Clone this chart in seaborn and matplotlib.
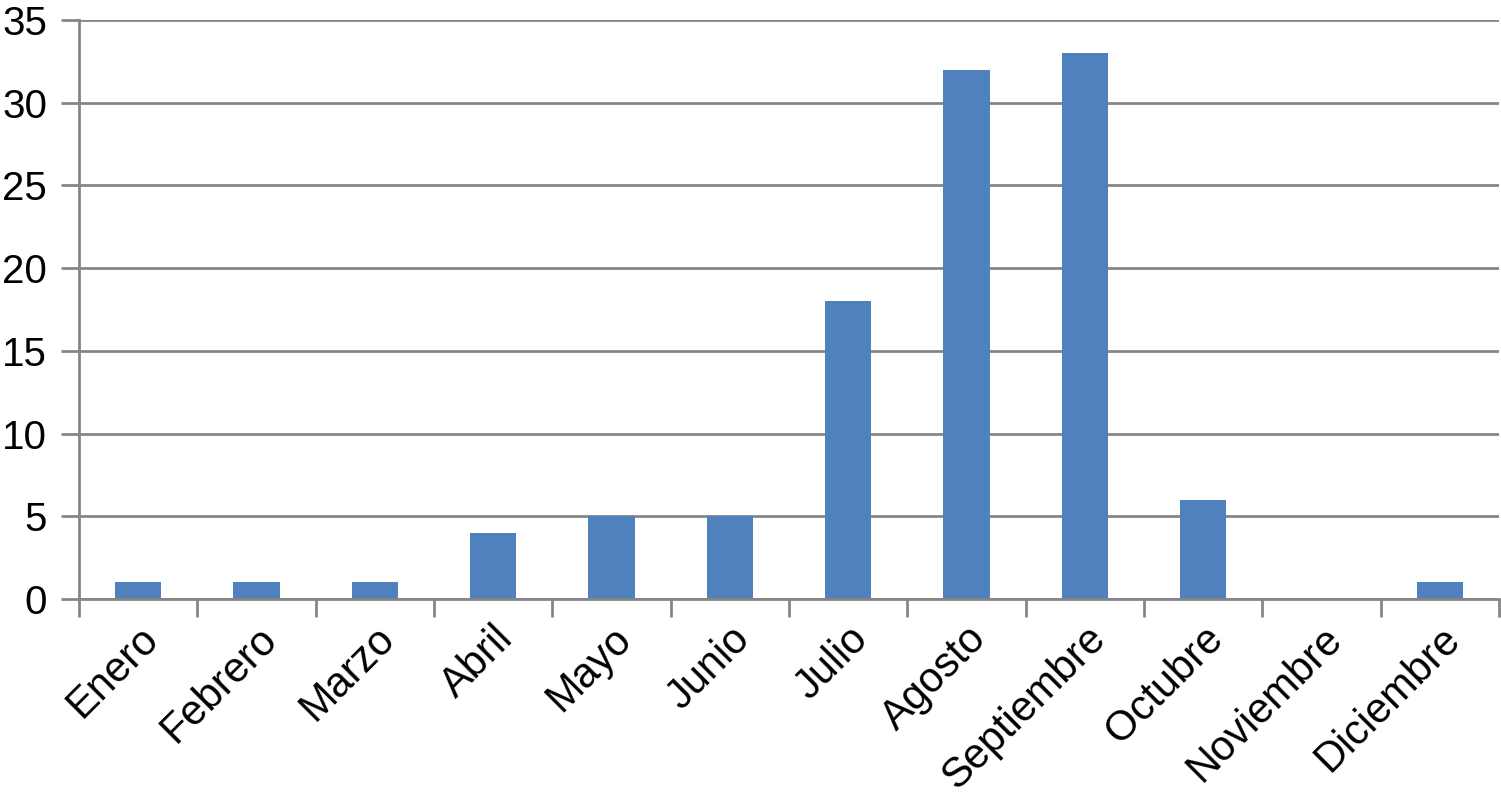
import matplotlib
matplotlib.use("Agg")
import matplotlib.pyplot as plt
import seaborn as sns
import pandas as pd
import numpy as np
from matplotlib.ticker import FixedLocator

months = ["Enero", "Febrero", "Marzo", "Abril", "Mayo", "Junio", "Julio",
          "Agosto", "Septiembre", "Octubre", "Noviembre", "Diciembre"]
values = [1, 1, 1, 4, 5, 5, 18, 32, 33, 6, 0, 1]
yticks = [0, 5, 10, 15, 20, 25, 30, 35]

sns.set_theme(style="white")
plt.rcParams['font.family'] = ['Liberation Sans', 'DejaVu Sans']

df = pd.DataFrame({"mes": months, "casos": values})

fig = plt.figure(figsize=(15.01, 8.0), dpi=100)
ax = fig.add_axes([79/1501, 1 - 599/800, (1499 - 79)/1501, (599 - 20)/800])

grid_c = "#868686"
sns.barplot(data=df, x="mes", y="casos", color="#4F81BD", width=0.39,
            saturation=1, linewidth=0, edgecolor="none", ax=ax, zorder=3)

ax.set_ylim(0, 35)
ax.set_xlim(-0.5, len(months) - 0.5)
ax.set_yticks(yticks)
ax.yaxis.grid(True, color=grid_c, linewidth=2, zorder=0)
ax.set_axisbelow(True)
ax.set_xlabel("")
ax.set_ylabel("")

for s in ["top", "right"]:
    ax.spines[s].set_visible(False)
for s in ["left", "bottom"]:
    ax.spines[s].set_color(grid_c)
    ax.spines[s].set_linewidth(2)
    ax.spines[s].set_zorder(4)

ax.tick_params(axis="y", length=13, width=2, color=grid_c, labelsize=29,
               pad=10, left=True)
ax.tick_params(axis="x", which="major", length=0, labelsize=30, pad=14)
ax.xaxis.set_minor_locator(FixedLocator(np.arange(-0.5, len(months), 1.0)))
ax.tick_params(axis="x", which="minor", length=13, width=2, color=grid_c,
               bottom=True)
ax.set_xticks(range(len(months)))
ax.set_xticklabels(months, rotation=45, ha="right", rotation_mode="anchor")
for lab in ax.get_yticklabels() + ax.get_xticklabels():
    lab.set_color("black")

fig.savefig("out.png", dpi=100)
